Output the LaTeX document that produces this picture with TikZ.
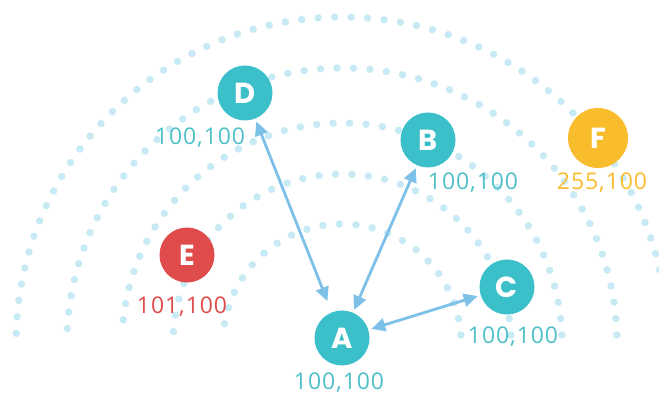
\documentclass[tikz,border=0pt]{standalone}
\usepackage{fontspec}
\setmainfont{Open Sans}[LetterSpace=4]
\newfontfamily\lettfont{Poppins}
\usetikzlibrary{arrows.meta}
\definecolor{ringblue}{RGB}{200,234,245}
\definecolor{linkblue}{RGB}{125,192,232}
\definecolor{peer}{RGB}{59,191,201}
\definecolor{peertext}{RGB}{78,192,200}
\definecolor{badred}{RGB}{224,75,75}
\definecolor{gold}{RGB}{249,188,44}
\begin{document}
\begin{tikzpicture}[x=1pt,y=1pt,
  ring/.style={ringblue, line width=7.5pt, line cap=round, dash pattern=on 0pt off 16.5pt},
  peernode/.style={circle, fill=#1, minimum size=55pt, inner sep=0pt, text=white,
    font=\lettfont\bfseries\fontsize{29}{29}\selectfont},
  score/.style={text=#1, inner sep=0pt, font=\fontsize{23}{23}\selectfont},
  link/.style={{Triangle[width=13pt,length=14pt]}-{Triangle[width=13pt,length=14pt]},
    linkblue, line width=2.8pt, shorten >=3pt, shorten <=3pt}]
  \clip (0,0) rectangle (659,396);
  % dotted rings
  \foreach \r in {119,169,220,275,326}
    \draw[ring] (342,53) ++({asin(8/\r)}:\r pt)
      arc[start angle={asin(8/\r)}, end angle={180-asin(8/\r)}, radius=\r pt];
  % peers
  \node[peernode=peer] (A) at (342,58) {A};
  \node[peernode=peer] (B) at (428,256) {B};
  \node[peernode=peer] (C) at (507,109) {C};
  \node[peernode=peer] (D) at (245,303) {D};
  \node[peernode=badred] (E) at (187,141) {E};
  \node[peernode=gold, minimum size=60pt] (F) at (598,258) {F};
  % scores
  \node[score=peertext] (Ascore) at (339,13) {100,100};
  \node[score=peertext] (Bscore) at (473,213) {100,100};
  \node[score=peertext] (Cscore) at (513,59) {100,100};
  \node[score=peertext] (Dscore) at (200,258) {100,100};
  \node[score=badred] (Escore) at (182,89) {101,100};
  \node[score=gold] (Fscore) at (602,213) {255,100};
  % links
  \draw[link, shorten <=12pt] (A) -- (D);
  \draw[link] (A) -- (B);
  \draw[link] (A) -- (C);
\end{tikzpicture}
\end{document}
